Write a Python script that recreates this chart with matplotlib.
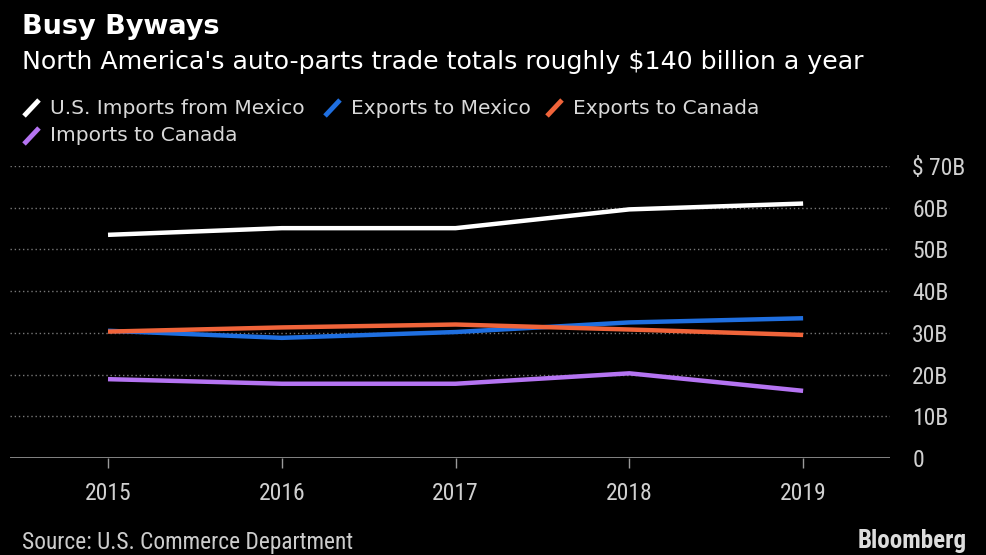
import matplotlib
matplotlib.use("Agg")
import matplotlib.pyplot as plt
from matplotlib.lines import Line2D
from matplotlib import font_manager

years = [2015, 2016, 2017, 2018, 2019]
us_imports_mexico = [53.5, 55.1, 55.1, 59.6, 61.0]
exports_mexico = [30.5, 28.8, 30.2, 32.5, 33.5]
exports_canada = [30.3, 31.3, 32.0, 30.8, 29.5]
imports_canada = [18.9, 17.8, 17.8, 20.3, 16.1]

series_names = ["U.S. Imports from Mexico", "Exports to Mexico", "Exports to Canada", "Imports to Canada"]
series_colors = ["#ffffff", "#1f6fe0", "#f0643a", "#b574f2"]
series_values = [us_imports_mexico, exports_mexico, exports_canada, imports_canada]

ytick_vals = [0, 10, 20, 30, 40, 50, 60, 70]
ytick_labels = ["0", "10B", "20B", "30B", "40B", "50B", "60B", "$ 70B"]

names = {f.name for f in font_manager.fontManager.ttflist}
narrow = "DejaVu Sans"
for cand in ["Roboto Condensed", "PT Sans Narrow", "Archivo Narrow", "Liberation Sans Narrow",
             "Open Sans Condensed", "Fira Sans Condensed", "IBM Plex Sans Condensed",
             "Encode Sans Condensed", "Barlow Semi Condensed", "Asap Condensed"]:
    if cand in names:
        narrow = cand
        break

W, H = 987, 555
fig = plt.figure(figsize=(W / 100, H / 100), dpi=100, facecolor="black")
ax = fig.add_axes([10 / W, 1 - 458 / H, 880 / W, (458 - 166) / H], facecolor="black")

for vals, c in zip(series_values, series_colors):
    ax.plot(years, vals, color=c, lw=3.2, solid_capstyle="butt", zorder=3)

ax.set_xlim(2014.436, 2019.5)
ax.set_ylim(0, 70)
for v in ytick_vals[1:]:
    ax.axhline(v, color="#777777", lw=1, ls=(0, (1, 2)), zorder=1)
ax.axhline(0, color="#9a9a9a", lw=1.2, zorder=2)

for s in ax.spines.values():
    s.set_visible(False)
ax.set_xticks(years)
ax.set_xticklabels([str(y) for y in years], fontsize=17, color="#d0d0d0", family=narrow)
ax.tick_params(axis="x", length=7, color="#9a9a9a", pad=10, width=1)
ax.yaxis.tick_right()
ax.set_yticks(ytick_vals)
ax.set_yticklabels(ytick_labels, fontsize=17, color="#d0d0d0", family=narrow)
ax.tick_params(axis="y", length=0, pad=16)

fig.text(22 / W, 1 - 27 / H, "Busy Byways", fontsize=19.5, fontweight="bold", color="white", va="center", ha="left")
fig.text(22 / W, 1 - 62 / H, "North America's auto-parts trade totals roughly $140 billion a year",
         fontsize=18.2, color="white", va="center", ha="left")

legend_pos = [(22, 108), (323, 108), (545, 108), (22, 136)]
for (x, y), name, c in zip(legend_pos, series_names, series_colors):
    fig.add_artist(Line2D([(x + 2) / W, (x + 17) / W], [1 - (y + 8) / H, 1 - (y - 8) / H],
                          color=c, lw=3.5, solid_capstyle="butt", transform=fig.transFigure))
    fig.text((x + 28) / W, 1 - y / H, name, fontsize=14.5, color="#d8d8d8", va="center", ha="left")

fig.text(22 / W, 1 - 543 / H, "Source: U.S. Commerce Department", fontsize=16.8, color="#cccccc",
         va="center", ha="left", family=narrow)
fig.text(967 / W, 1 - 553 / H, "Bloomberg", fontsize=18, fontweight="bold", color="#dddddd",
         va="bottom", ha="right", family=narrow)

fig.savefig("out.png", dpi=100, facecolor="black")
